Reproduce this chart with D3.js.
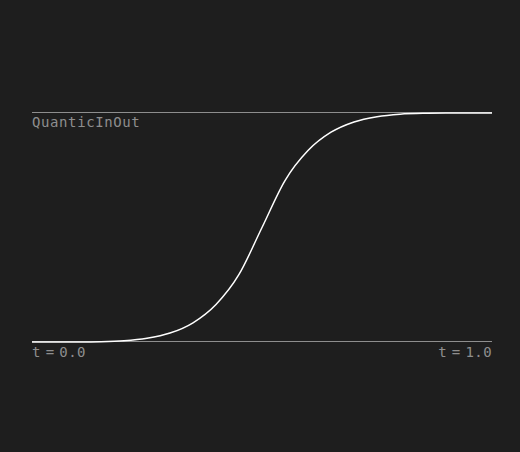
<!DOCTYPE html>
<html>
<head>
<meta charset="utf-8">
<script src="https://cdn.jsdelivr.net/npm/d3@7"></script>
<style>
  html, body { margin: 0; padding: 0; background: #1e1e1e; }
  svg { display: block; }
</style>
</head>
<body>
<script>
// t values along the x axis and eased values
const tValues = [0, 0.05, 0.1, 0.15, 0.2, 0.25, 0.3, 0.35, 0.4, 0.45, 0.5,
  0.55, 0.6, 0.65, 0.7, 0.75, 0.8, 0.85, 0.9, 0.95, 1];
const easeValues = [0, 0, 0.0002, 0.0012, 0.005, 0.016, 0.039, 0.084, 0.164, 0.295, 0.5,
  0.705, 0.836, 0.916, 0.961, 0.984, 0.995, 0.9988, 0.9998, 1, 1];
const refLines = [0, 1];
const title = 'QuanticInOut';
const startLabel = 't = 0.0';
const endLabel = 't = 1.0';

const width = 520;
const height = 452;

const x = d3.scaleLinear().domain([0, 1]).range([32, 492]);
const y = d3.scaleLinear().domain([0, 1]).range([342, 113]);

const svg = d3.select('body').append('svg')
  .attr('width', width)
  .attr('height', height);

// reference lines at 0 and 1
svg.selectAll('.ref')
  .data(refLines)
  .enter()
  .append('line')
  .attr('class', 'ref')
  .attr('x1', x(0))
  .attr('x2', x(1))
  .attr('y1', d => y(d) - 0.5)
  .attr('y2', d => y(d) - 0.5)
  .attr('stroke', '#8e8e8e')
  .attr('stroke-width', 1)
  .attr('shape-rendering', 'crispEdges');

const data = tValues.map((t, i) => ({ t, v: easeValues[i] }));

const line = d3.line()
  .x(d => x(d.t))
  .y(d => y(d.v))
  .curve(d3.curveMonotoneX);

svg.append('path')
  .datum(data)
  .attr('d', line)
  .attr('fill', 'none')
  .attr('stroke', '#ffffff')
  .attr('stroke-width', 1.5);

const font = '"DejaVu Sans Mono", monospace';

svg.append('text')
  .attr('x', x(0))
  .attr('y', y(1) + 14)
  .attr('fill', '#8e8e8e')
  .attr('font-family', font)
  .attr('font-size', 14)
  .attr('letter-spacing', 0.6)
  .text(title);

svg.append('text')
  .attr('x', x(0))
  .attr('y', y(0) + 15)
  .attr('fill', '#8e8e8e')
  .attr('font-family', font)
  .attr('font-size', 14)
  .attr('letter-spacing', 0.4)
  .attr('word-spacing', -4)
  .text(startLabel);

svg.append('text')
  .attr('x', x(1))
  .attr('y', y(0) + 15)
  .attr('text-anchor', 'end')
  .attr('fill', '#8e8e8e')
  .attr('font-family', font)
  .attr('font-size', 14)
  .attr('letter-spacing', 0.4)
  .attr('word-spacing', -4)
  .text(endLabel);
</script>
</body>
</html>
